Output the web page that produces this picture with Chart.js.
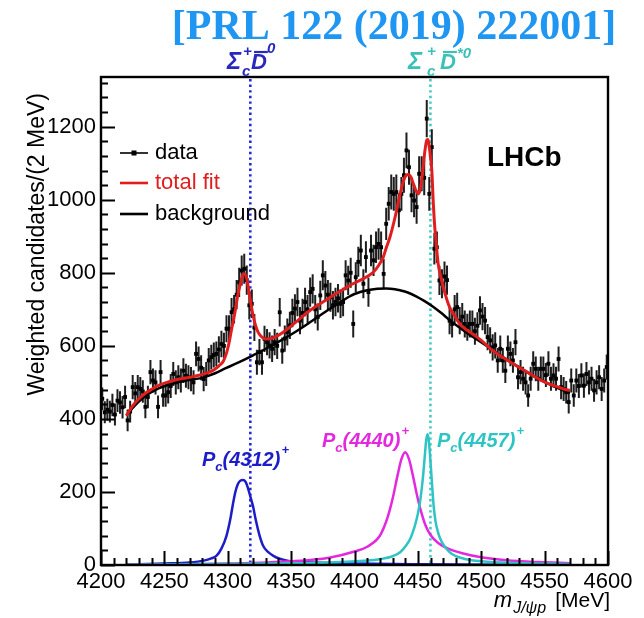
<!DOCTYPE html>
<html><head><meta charset="utf-8">
<script src="https://cdn.jsdelivr.net/npm/chart.js@4.4.1/dist/chart.umd.min.js"></script>
<style>html,body{margin:0;padding:0;background:#fff;}canvas{display:block;}</style>
</head><body>
<canvas id="c" width="644" height="618" style="width:644px;height:618px"></canvas>
<script>
// ---------- data ----------
const dataMass = [
4201,4203,4205,4207,4209,4211,4213,4215,4217,4219,
4221,4223,4225,4227,4229,4231,4233,4235,4237,4239,
4241,4243,4245,4247,4249,4251,4253,4255,4257,4259,
4261,4263,4265,4267,4269,4271,4273,4275,4277,4279,
4281,4283,4285,4287,4289,4291,4293,4295,4297,4299,
4301,4303,4305,4307,4309,4311,4313,4315,4317,4319,
4321,4323,4325,4327,4329,4331,4333,4335,4337,4339,
4341,4343,4345,4347,4349,4351,4353,4355,4357,4359,
4361,4363,4365,4367,4369,4371,4373,4375,4377,4379,
4381,4383,4385,4387,4389,4391,4393,4395,4397,4399,
4401,4403,4405,4407,4409,4411,4413,4415,4417,4419,
4421,4423,4425,4427,4429,4431,4433,4435,4437,4439,
4441,4443,4445,4447,4449,4451,4453,4455,4457,4459,
4461,4463,4465,4467,4469,4471,4473,4475,4477,4479,
4481,4483,4485,4487,4489,4491,4493,4495,4497,4499,
4501,4503,4505,4507,4509,4511,4513,4515,4517,4519,
4521,4523,4525,4527,4529,4531,4533,4535,4537,4539,
4541,4543,4545,4547,4549,4551,4553,4555,4557,4559,
4561,4563,4565,4567,4569,4571,4573,4575,4577,4579,
4581,4583,4585,4587,4589,4591,4593,4595,4597,4599];
const dataValues = [
455,418,425,420,438,412,450,445,432,460,
396,420,487,470,487,482,475,433,460,528,
505,500,433,528,464,464,473,490,523,500,
514,505,532,518,514,509,500,578,564,540,
509,523,560,569,575,578,590,605,600,647,
647,692,700,740,774,806,811,780,711,715,
650,555,583,555,619,610,601,592,610,600,
692,587,620,638,656,690,702,720,669,690,
720,700,747,756,700,679,738,793,765,740,
733,711,720,730,715,720,793,779,800,660,
788,830,861,770,843,747,861,834,870,879,
870,797,934,989,1021,1016,1021,971,1016,1067,
1135,1089,1012,998,980,1071,1071,1060,1222,1016,
1144,866,870,779,770,790,780,669,660,700,
706,669,680,660,651,660,660,640,655,697,
680,669,624,615,596,601,560,592,560,532,
592,578,560,610,514,528,510,500,464,510,
551,537,510,537,537,520,551,510,519,510,
564,487,482,473,446,505,464,505,490,519,
491,523,500,510,478,500,514,482,505,542];
const dataErrors = [
31,30,30,30,31,30,31,31,31,31,
30,30,33,31,33,33,31,31,31,33,
33,33,31,33,31,31,31,33,33,33,
33,33,34,33,33,33,33,34,34,34,
33,33,34,34,34,34,36,36,36,37,
37,39,39,40,40,41,41,40,39,39,
37,34,36,34,36,36,36,36,36,36,
39,36,36,37,37,39,39,39,37,39,
39,39,40,40,39,37,40,41,40,40,
40,39,39,39,39,39,41,40,41,37,
41,41,43,40,43,40,43,43,43,43,
43,41,44,46,48,46,48,46,46,48,
49,48,46,46,46,48,48,48,51,46,
49,43,43,40,40,41,40,37,37,39,
39,37,37,37,37,37,37,37,37,39,
37,37,36,36,36,36,34,36,34,34,
36,34,34,36,33,33,33,33,31,33,
34,34,33,34,34,33,34,33,33,33,
34,33,33,31,31,33,31,33,33,33,
33,33,33,33,31,33,33,33,33,34];

const fitMass = [4220,4222,4225,4230,4235,4240,4245,4252,4258,4265,4272,4278,4284,4289,4293,4296.5,4299,4301,4303,4305.7,4308,4310,4312,4313.5,4315,4317.6,4320,4322,4324,4327,4330,4334,4338,4344,4350,4356,4363,4370,4377,4384,4390,4396,4400,4407,4411,4415,4419,4422.7,4425,4428,4432,4436,4439.8,4442.4,4444.5,4446.4,4448.5,4450.3,4452,4453,4454.5,4455.6,4457,4458,4459,4460,4461,4462.2,4463,4464,4466,4468,4470,4475,4480,4483,4488,4495,4500,4508,4515,4521,4528,4534.5,4541,4547.7,4554,4560.8,4565,4570];
const fitValues = [409,420,436,455,470,481,491,500,506,511,515,520,526,534,545,558,580,608,645,692,740,770,795,797,784,729,683,655,637,624,619,620,625,638,654,672,692,709,724,740,752,765,772,784,792,802,820,843,868,898,952,1016,1062,1069,1062,1044,1025,1016,1030,1053,1100,1135,1163,1165,1144,1115,1080,989,940,898,825,790,761,706,677,660,645,628,615,590,573,560,545,532,518,505,495,487,482,478];

const bkgMass = [4220,4225,4230,4235,4240,4245,4252,4258,4265,4272,4278,4284,4290,4298,4305,4313.6,4320,4329,4340,4350,4360,4371.5,4380,4390,4396,4400,4410,4418,4425,4432,4436,4442,4449,4455,4462,4468,4475,4482,4488.5,4495,4499,4505,4515,4530,4545,4560,4570];
const bkgValues = [409,430,448,463,474,483,492,498,504,508,511,517,525,538,549,563,574,590,611,631,653,680,700,722,735,742,752,756,757,755,752,746,735,723,707,691,671,652,636,621,612,598,574,541,510,485,471];

const pc4312Mass = [4220,4250,4270,4281,4287,4291,4295,4299,4302,4304,4306,4308,4310,4312,4314,4316,4318,4320,4322,4325,4328,4332,4336,4341,4347,4360,4400,4450,4520,4570];
const pc4312Values = [1,4,7,12,18,25,45,80,125,165,200,222,231,233,228,210,185,160,125,82,52,35,25,17,12,8,4,2,1,1];

const pc4440Mass = [4220,4300,4350,4380,4400,4410,4420,4425,4428,4431,4434,4437,4440,4443,4446,4449,4452,4456,4460,4466,4473,4485,4500,4520,4545,4570];
const pc4440Values = [1.5,4,10,20,37,50,80,119,153,196,246,290,309,290,246,196,153,109,82,60,46,32,21,13,8,5];

const pc4457Mass = [4220,4300,4380,4410,4420,4430,4436,4441,4444,4446,4448,4450,4452,4454,4455.5,4456.5,4457.5,4458.5,4459.5,4461,4462.5,4464,4466,4469,4475,4480,4488,4500,4530,4570];
const pc4457Values = [1,3,7,12,16,24,35,55,72,90,112,140,180,240,300,340,358,345,305,230,160,118,88,62,35,24,16,10,5,3];

const thresholdMass = [4317.8, 4459.9];
const xTickValues = [4200,4250,4300,4350,4400,4450,4500,4550,4600];
const xMinorTicks = [4200,4210,4220,4230,4240,4250,4260,4270,4280,4290,4300,4310,4320,4330,4340,4350,4360,4370,4380,4390,4400,4410,4420,4430,4440,4450,4460,4470,4480,4490,4500,4510,4520,4530,4540,4550,4560,4570,4580,4590,4600];
const yTickValues = [0,200,400,600,800,1000,1200];
const yMinorTicks = [0,40,80,120,160,200,240,280,320,360,400,440,480,520,560,600,640,680,720,760,800,840,880,920,960,1000,1040,1080,1120,1160,1200,1240,1280,1320];

const titleText = '[PRL 122 (2019) 222001]';
const yTitle = 'Weighted candidates/(2 MeV)';
const legendLabels = ['data', 'total fit', 'background'];

// ---------- styling ----------
const SANS = "'Liberation Sans', Arial, Helvetica, sans-serif";
const SERIF = "'Liberation Serif', 'Times New Roman', serif";
const RED = 'rgb(224,30,30)';
const BLUE = 'rgb(28,28,200)';
const MAGENTA = 'rgb(228,40,222)';
const TEAL = 'rgb(46,196,196)';
const DOTBLUE = 'rgb(40,40,215)';
const DOTTEAL = 'rgb(70,200,200)';

function pts(xs, ys) { return xs.map((x, i) => ({ x: x, y: ys[i] })); }
function curve(label, xs, ys, color, width, order) {
  return { label, data: pts(xs, ys), showLine: true, borderColor: color, backgroundColor: color,
    borderWidth: width, pointRadius: 0, fill: false, cubicInterpolationMode: 'monotone', order };
}

function drawParts(ctx, color, parts) {
  ctx.fillStyle = color; ctx.strokeStyle = color;
  ctx.textAlign = 'left'; ctx.textBaseline = 'alphabetic';
  let cx = 0;
  parts.forEach(p => {
    ctx.font = p.f;
    const w = ctx.measureText(p.t).width;
    const x = (p.x !== undefined) ? p.x : cx + (p.dx || 0);
    ctx.fillText(p.t, x, p.y);
    if (p.bar) {
      ctx.lineWidth = 2.2; ctx.beginPath();
      ctx.moveTo(x + p.bar[0], p.bar[1]); ctx.lineTo(x + w + p.bar[2], p.bar[1]); ctx.stroke();
    }
    cx = x + w;
  });
}

const overlay = {
  id: 'overlay',
  beforeDatasetsDraw(chart) {
    const ctx = chart.ctx, xs = chart.scales.x, ys = chart.scales.y, a = chart.chartArea;
    ctx.save();
    [DOTBLUE, DOTTEAL].forEach((col, i) => {
      const x = xs.getPixelForValue(thresholdMass[i]);
      ctx.strokeStyle = col; ctx.lineWidth = 2.6; ctx.setLineDash([2.4, 3.2]);
      ctx.beginPath(); ctx.moveTo(x, a.top + 2); ctx.lineTo(x, a.bottom); ctx.stroke();
    });
    ctx.setLineDash([]);
    ctx.strokeStyle = '#1e1e1e'; ctx.lineWidth = 2;
    ctx.beginPath();
    dataMass.forEach((m, i) => {
      const x = xs.getPixelForValue(m);
      ctx.moveTo(x, ys.getPixelForValue(dataValues[i] - dataErrors[i]));
      ctx.lineTo(x, ys.getPixelForValue(dataValues[i] + dataErrors[i]));
    });
    ctx.stroke();
    ctx.restore();
  },
  afterDatasetsDraw(chart) {
    const ctx = chart.ctx, xs = chart.scales.x, ys = chart.scales.y, a = chart.chartArea;
    ctx.save();
    ctx.strokeStyle = '#000'; ctx.lineWidth = 2;
    ctx.beginPath();
    xMinorTicks.forEach(v => {
      const x = Math.round(xs.getPixelForValue(v)) + 0.5;
      const len = xTickValues.includes(v) ? 14 : 7;
      ctx.moveTo(x, a.bottom); ctx.lineTo(x, a.bottom - len);
    });
    yMinorTicks.forEach(v => {
      const y = Math.round(ys.getPixelForValue(v)) + 0.5;
      const len = yTickValues.includes(v) ? 14 : 7;
      ctx.moveTo(a.left, y); ctx.lineTo(a.left + len, y);
    });
    ctx.stroke();
    ctx.lineWidth = 2.4;
    ctx.strokeRect(a.left, a.top, a.right - a.left, a.bottom - a.top);

    // legend
    const lx0 = 120, lx1 = 148, ly = [153, 183, 214];
    ctx.lineWidth = 1.6; ctx.strokeStyle = '#000';
    ctx.beginPath(); ctx.moveTo(lx0, ly[0]); ctx.lineTo(lx1, ly[0]); ctx.stroke();
    ctx.fillStyle = '#000'; ctx.fillRect(134 - 2.5, ly[0] - 2.5, 5, 5);
    ctx.lineWidth = 2.6; ctx.strokeStyle = RED;
    ctx.beginPath(); ctx.moveTo(lx0, ly[1]); ctx.lineTo(lx1, ly[1]); ctx.stroke();
    ctx.strokeStyle = '#000';
    ctx.beginPath(); ctx.moveTo(lx0, ly[2]); ctx.lineTo(lx1, ly[2]); ctx.stroke();
    ctx.font = `22px ${SANS}`; ctx.textBaseline = 'middle'; ctx.textAlign = 'left';
    ctx.fillStyle = '#000'; ctx.fillText(legendLabels[0], 155, ly[0]);
    ctx.fillStyle = RED; ctx.fillText(legendLabels[1], 155, ly[1]);
    ctx.fillStyle = '#000'; ctx.fillText(legendLabels[2], 155, ly[2]);

    ctx.font = `bold 28px ${SANS}`; ctx.textBaseline = 'alphabetic'; ctx.fillStyle = '#000';
    ctx.fillText('LHCb', 487, 166);

    const BI = s => `bold italic ${s}px ${SANS}`;
    drawParts(ctx, BLUE, [
      { t: 'P', x: 202, y: 466, f: BI(20) }, { t: 'c', dx: 0, y: 471, f: BI(13) },
      { t: '(4312)', dx: 0, y: 466, f: BI(20) }, { t: '+', dx: 1, y: 454, f: BI(13) }]);
    drawParts(ctx, MAGENTA, [
      { t: 'P', x: 322, y: 447, f: BI(20) }, { t: 'c', dx: 0, y: 452, f: BI(13) },
      { t: '(4440)', dx: 0, y: 447, f: BI(20) }, { t: '+', dx: 1, y: 435, f: BI(13) }]);
    drawParts(ctx, TEAL, [
      { t: 'P', x: 437, y: 447, f: BI(20) }, { t: 'c', dx: 0, y: 452, f: BI(13) },
      { t: '(4457)', dx: 0, y: 447, f: BI(20) }, { t: '+', dx: 1, y: 435, f: BI(13) }]);

    drawParts(ctx, 'rgb(40,40,190)', [
      { t: 'Σ', x: 227, y: 69, f: BI(24) }, { t: '+', x: 243, y: 56, f: BI(15) },
      { t: 'c', x: 242, y: 76, f: BI(15) }, { t: 'D', x: 251, y: 69, f: BI(22), bar: [3, 52, 1] },
      { t: '0', x: 267, y: 53, f: BI(15) }]);
    drawParts(ctx, 'rgb(60,192,184)', [
      { t: 'Σ', x: 408, y: 69, f: BI(24) }, { t: '+', x: 427, y: 56, f: BI(15) },
      { t: 'c', x: 427, y: 76, f: BI(15) }, { t: 'D', x: 440, y: 69, f: BI(22), bar: [3, 52, 1] },
      { t: '*0', x: 457, y: 58, f: BI(15) }]);

    ctx.font = `bold 42px ${SERIF}`; ctx.textAlign = 'center'; ctx.fillStyle = 'rgb(30,150,242)';
    ctx.fillText(titleText, 394, 39);

    ctx.save();
    ctx.translate(38, 93); ctx.rotate(-Math.PI / 2);
    ctx.font = `23px ${SANS}`; ctx.textAlign = 'right'; ctx.textBaseline = 'middle'; ctx.fillStyle = '#000';
    ctx.fillText(yTitle, 0, 0);
    ctx.restore();

    ctx.textAlign = 'left'; ctx.textBaseline = 'alphabetic'; ctx.fillStyle = '#000';
    ctx.font = `21px ${SANS}`;
    const wMeV = ctx.measureText('[MeV]').width;
    const xMeV = 610 - wMeV;
    ctx.fillText('[MeV]', xMeV, 607);
    ctx.font = `italic 16px ${SANS}`;
    const wSub = ctx.measureText('J/ψp').width;
    const xSub = xMeV - 9 - wSub;
    ctx.fillText('J/ψp', xSub, 613);
    ctx.font = `italic 22px ${SANS}`;
    const wM = ctx.measureText('m').width;
    ctx.fillText('m', xSub - 1 - wM, 607);
    ctx.restore();
  }
};

new Chart(document.getElementById('c'), {
  type: 'scatter',
  data: {
    datasets: [
      curve('total fit', fitMass, fitValues, RED, 3, 1),
      curve('background', bkgMass, bkgValues, '#000', 2.5, 2),
      curve('Pc(4457)+', pc4457Mass, pc4457Values, TEAL, 2.5, 3),
      curve('Pc(4440)+', pc4440Mass, pc4440Values, MAGENTA, 2.5, 4),
      curve('Pc(4312)+', pc4312Mass, pc4312Values, BLUE, 2.5, 5),
      { label: 'data', data: pts(dataMass, dataValues), showLine: false, pointStyle: 'rect',
        pointRadius: 2.7, pointBackgroundColor: '#000', pointBorderColor: '#000', pointBorderWidth: 0, order: 10 }
    ]
  },
  options: {
    responsive: false, animation: false, devicePixelRatio: 1,
    layout: { padding: { top: 77, right: 36, left: 0, bottom: 0 } },
    plugins: { legend: { display: false }, tooltip: { enabled: false } },
    scales: {
      x: {
        type: 'linear', min: 4200, max: 4600,
        afterFit: s => { s.height = 53; },
        afterBuildTicks: s => { s.ticks = xTickValues.map(v => ({ value: v })); },
        grid: { display: false, drawTicks: false }, border: { display: false },
        ticks: { font: { size: 22, family: SANS }, color: '#000', padding: 4, maxRotation: 0, autoSkip: false,
          callback: v => String(v) }
      },
      y: {
        type: 'linear', min: 0, max: 1336,
        afterFit: s => { s.width = 101; },
        afterBuildTicks: s => { s.ticks = yTickValues.map(v => ({ value: v })); },
        grid: { display: false, drawTicks: false }, border: { display: false },
        ticks: { font: { size: 22, family: SANS }, color: '#000', padding: 5, autoSkip: false,
          callback: v => String(v) }
      }
    }
  },
  plugins: [overlay]
});
</script></body></html>
